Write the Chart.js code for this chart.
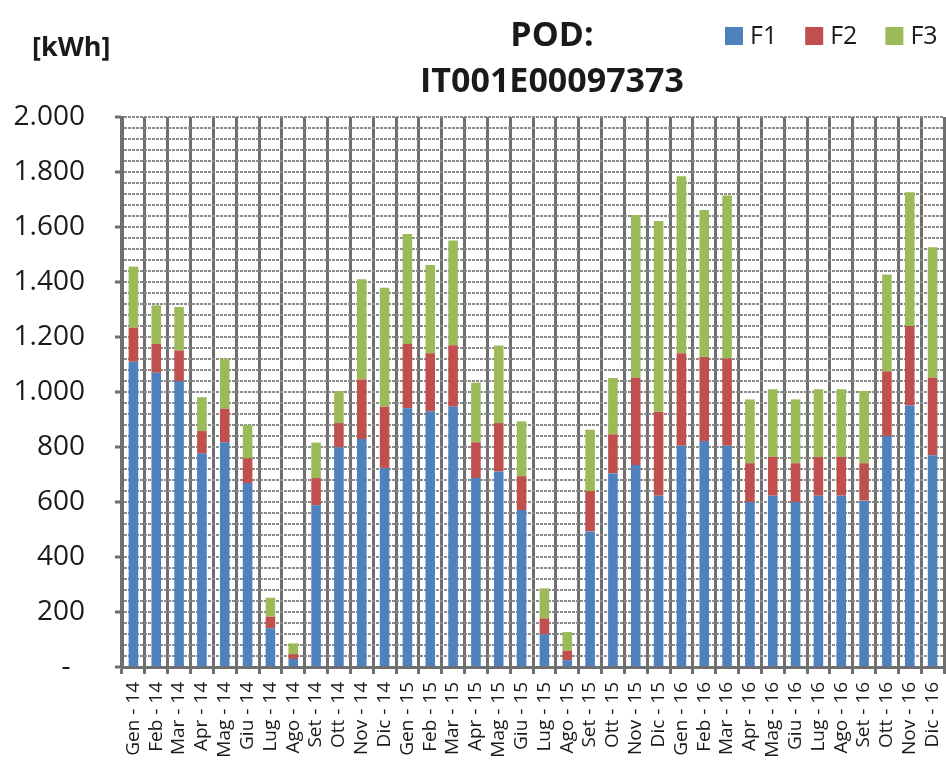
<!DOCTYPE html>
<html>
<head>
<meta charset="utf-8">
<title>POD IT001E00097373</title>
<script src="https://cdn.jsdelivr.net/npm/chart.js@4.4.0/dist/chart.umd.min.js"></script>
<style>
  html, body { margin: 0; padding: 0; background: #fff; }
  canvas { display: block; }
</style>
</head>
<body>
<canvas id="podChart" width="946" height="762"></canvas>
<script>
// monthly consumption per time band, kWh
const months = ['Gen', 'Feb', 'Mar', 'Apr', 'Mag', 'Giu', 'Lug', 'Ago', 'Set', 'Ott', 'Nov', 'Dic'];
const years = ['14', '15', '16'];
const labels = years.flatMap(y => months.map(m => m + ' - ' + y));

const f1 = [1110, 1070, 1040, 776, 817, 669, 141, 29, 588, 799, 829, 724,
            941, 930, 947, 687, 711, 571, 119, 25, 493, 705, 735, 623,
            805, 822, 805, 600, 623, 600, 623, 623, 605, 840, 951, 770];
const f2 = [124, 105, 111, 82, 122, 90, 42, 18, 99, 88, 217, 223,
            234, 211, 223, 130, 176, 123, 58, 34, 147, 141, 317, 305,
            336, 306, 317, 141, 141, 141, 141, 141, 136, 235, 289, 282];
const f3 = [222, 140, 158, 123, 182, 121, 69, 39, 129, 117, 364, 432,
            400, 321, 381, 217, 282, 199, 109, 68, 223, 205, 592, 694,
            644, 534, 593, 232, 246, 232, 246, 246, 263, 352, 486, 474];

const gridGrey = '#6f6f6f';
const textColor = '#1a1a1a';

Chart.defaults.font.family = '"Open Sans", sans-serif';
Chart.defaults.color = textColor;

// 2000 -> "2.000", zero shown as a dash
function formatKwh(v) {
  if (v === 0) return '-  ';
  return String(v).replace(/\B(?=(\d{3})+(?!\d))/g, '.');
}

// title, unit and legend drawn above the plot
const header = {
  id: 'header',
  afterDraw(chart) {
    const ctx = chart.ctx;
    ctx.save();
    ctx.fillStyle = textColor;
    ctx.textBaseline = 'alphabetic';
    ctx.textAlign = 'left';
    ctx.font = 'bold 27px "Open Sans"';
    ctx.fillText('[kWh]', 32, 56);

    ctx.textAlign = 'center';
    ctx.font = 'bold 34px "Open Sans"';
    ctx.fillText('POD:', 552, 46);
    ctx.fillText('IT001E00097373', 552, 92);

    ctx.textAlign = 'left';
    ctx.textBaseline = 'middle';
    ctx.font = '25px "Open Sans"';
    let x = 725;
    chart.data.datasets.forEach(ds => {
      ctx.fillStyle = ds.backgroundColor;
      ctx.fillRect(x, 27, 18, 18);
      ctx.fillStyle = textColor;
      ctx.fillText(ds.label, x + 25, 37);
      x += 25 + ctx.measureText(ds.label).width + 28;
    });
    ctx.restore();
  }
};

new Chart(document.getElementById('podChart'), {
  type: 'bar',
  data: {
    labels: labels,
    datasets: [
      { label: 'F1', data: f1, backgroundColor: '#4f81bd' },
      { label: 'F2', data: f2, backgroundColor: '#c0504d' },
      { label: 'F3', data: f3, backgroundColor: '#9bbb59' }
    ]
  },
  options: {
    responsive: false,
    animation: false,
    barPercentage: 0.42,
    categoryPercentage: 1,
    layout: { padding: { top: 117, right: 2, left: 0, bottom: 0 } },
    plugins: {
      legend: { display: false },
      tooltip: { enabled: false }
    },
    scales: {
      x: {
        stacked: true,
        grid: { color: gridGrey, lineWidth: 3, tickLength: 7, offset: true },
        border: { color: gridGrey, width: 3 },
        ticks: {
          autoSkip: false,
          minRotation: 90,
          maxRotation: 90,
          padding: 8,
          color: textColor,
          font: { size: 19 }
        },
        afterFit: scale => {
          scale.height = 95;
          // rotated labels stay inside the category width
          scale.paddingLeft = 0;
          scale.paddingRight = 0;
        }
      },
      y: {
        stacked: true,
        min: 0,
        max: 2000,
        ticks: {
          stepSize: 40,
          autoSkip: false,
          padding: 30,
          color: textColor,
          font: { size: 28 },
          callback: v => (v % 200 === 0 ? formatKwh(v) : '')
        },
        grid: {
          color: '#8c8c8c',
          lineWidth: 2,
          tickLength: 7,
          tickWidth: 3,
          tickColor: c => (c.tick && c.tick.value % 200 === 0 ? gridGrey : 'rgba(0,0,0,0)')
        },
        border: { color: gridGrey, width: 3, dash: [3, 1] },
        afterFit: scale => { scale.width = 122; }
      }
    }
  },
  plugins: [header]
});
</script>
</body>
</html>
